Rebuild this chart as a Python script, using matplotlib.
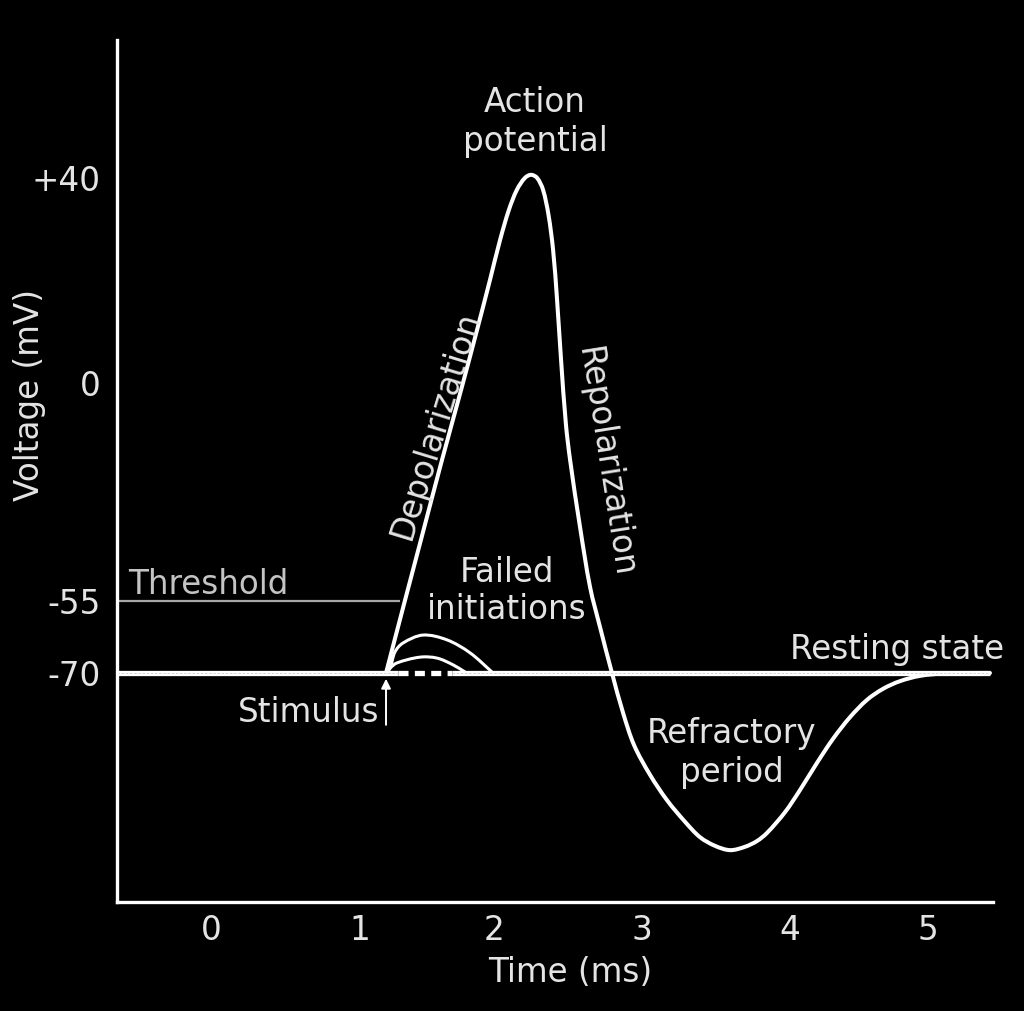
import numpy as np
import matplotlib
matplotlib.use("Agg")
import matplotlib.pyplot as plt
from matplotlib.path import Path
from matplotlib.patches import PathPatch

# ---------------- data (ms, mV) ----------------
ap_t = [1.194, 1.336, 1.474, 1.612, 1.754, 1.873, 1.970, 2.041, 2.101, 2.155, 2.209,
        2.250, 2.291, 2.331, 2.368, 2.399, 2.426, 2.453, 2.486, 2.514, 2.581, 2.649, 2.716,
        2.797, 2.872, 2.946, 3.054, 3.169, 3.291, 3.392, 3.493, 3.595, 3.696,
        3.777, 3.845, 3.966, 4.072, 4.196, 4.312, 4.435, 4.558, 4.674, 4.797, 4.942,
        5.123, 5.449]
ap_v = [-70, -54.8, -37.1, -19.4, -1.8, 10.3, 20.1, 27.9, 33.8, 37.7, 40.0,
        40.6, 40.0, 37.7, 32.8, 26.0, 16.2, 4.5, -10.5, -19.4, -36.3, -51.5, -60.4,
        -70, -78.3, -85.0, -91.2, -96.5, -101.0, -104.2, -106.0, -106.9, -106.2,
        -105.0, -103.3, -99.0, -94.4, -88.7, -83.7, -79.2, -75.6, -73.3, -71.7, -70.6,
        -70.1, -70]

fail1_t = [1.194, 1.224, 1.261, 1.321, 1.470, 1.649, 1.821, 1.993]
fail1_v = [-70, -69.0, -65.6, -63.75, -62.1, -63.1, -65.8, -70]
fail2_t = [1.194, 1.224, 1.276, 1.448, 1.575, 1.694, 1.784]
fail2_v = [-70, -69.0, -67.9, -66.7, -66.9, -68.3, -69.8]

rest_v = -70
threshold_v = -55
stimulus_t = 1.194
t_min, t_max = -0.631, 5.45
dashed_t = [1.284, 1.687]

xticks = [0, 1, 2, 3, 4, 5]
xtick_labels = ["0", "1", "2", "3", "4", "5"]
yticks = [40, 0, -55, -70]
ytick_labels = ["+40", "0", "-55", "-70"]

# schematic (non-uniform) axis spacing, as drawn in the original
x_knots = [0, 1, 2, 3, 4, 5]
x_knot_pos = [211, 360, 494, 642, 790, 928]
y_knots = [-70, -55, 0, 40]
y_knot_pos = [-673, -601, -383, -178]


def _pw(v, xp, fp):
    a = np.asarray(v, dtype=float)
    shp = a.shape
    a = a.ravel()
    out = np.interp(a, xp, fp)
    s0 = (fp[1] - fp[0]) / (xp[1] - xp[0])
    s1 = (fp[-1] - fp[-2]) / (xp[-1] - xp[-2])
    out = np.where(a < xp[0], fp[0] + (a - xp[0]) * s0, out)
    out = np.where(a > xp[-1], fp[-1] + (a - xp[-1]) * s1, out)
    return out.reshape(shp)


xf = (lambda v: _pw(v, x_knots, x_knot_pos), lambda v: _pw(v, x_knot_pos, x_knots))
yf = (lambda v: _pw(v, y_knots, y_knot_pos), lambda v: _pw(v, y_knot_pos, y_knots))


def smooth_path(ts, vs):
    """Smooth cubic Bezier path through the read points (in scale space)."""
    P = np.column_stack([xf[0](np.array(ts)), yf[0](np.array(vs))])
    n = len(P)
    d = np.linalg.norm(np.diff(P, axis=0), axis=1)
    m = np.zeros_like(P)
    m[0] = (P[1] - P[0]) / d[0]
    m[-1] = (P[-1] - P[-2]) / d[-1]
    for i in range(1, n - 1):
        m[i] = (P[i + 1] - P[i - 1]) / (d[i - 1] + d[i])
    verts = [P[0]]
    codes = [Path.MOVETO]
    for i in range(n - 1):
        verts += [P[i] + m[i] * d[i] / 3, P[i + 1] - m[i + 1] * d[i] / 3, P[i + 1]]
        codes += [Path.CURVE4] * 3
    V = np.array(verts)
    V[:, 0] = xf[1](V[:, 0])
    V[:, 1] = yf[1](V[:, 1])
    return Path(V, codes)


TXT = "#e4e4e4"
FS = 23.5
plt.rcParams['font.family'] = ['DejaVu Sans']

fig = plt.figure(figsize=(10.24, 10.11), dpi=100, facecolor="black")
ax = fig.add_axes([117 / 1024, 1 - 902 / 1011, (993 - 117) / 1024, (902 - 40) / 1011])
ax.set_facecolor("black")
ax.set_xscale("function", functions=xf)
ax.set_yscale("function", functions=yf)
ax.set_xlim(-0.631, 5.471)
ax.set_ylim(-117.7, 66.9)

for s in ["top", "right"]:
    ax.spines[s].set_visible(False)
for s in ["left", "bottom"]:
    ax.spines[s].set_color("white")
    ax.spines[s].set_linewidth(2.4)

ax.set_xticks(xticks)
ax.set_xticklabels(xtick_labels)
ax.set_yticks(yticks)
ax.set_yticklabels(ytick_labels)
ax.tick_params(axis="both", length=0, colors=TXT, labelsize=FS)
ax.tick_params(axis="y", pad=12)
ax.tick_params(axis="x", pad=9)
ax.minorticks_off()

# threshold
ax.plot([t_min, 1.30], [threshold_v, threshold_v], color="#a8a8a8", lw=1.6, solid_capstyle="butt")

# resting line
RW = 3.8
ax.plot([t_min, dashed_t[0]], [rest_v, rest_v], color="white", lw=RW, solid_capstyle="butt")
ax.plot(dashed_t, [rest_v, rest_v], color="white", lw=RW, dashes=(1.9, 1.2), dash_capstyle="butt")
ax.plot([dashed_t[1], t_max], [rest_v, rest_v], color="white", lw=RW, solid_capstyle="butt")
ax.plot([t_min, dashed_t[0]], [rest_v, rest_v], color="#cfcfcf", lw=0.6, dashes=(3, 2))
ax.plot([dashed_t[1], t_max], [rest_v, rest_v], color="#cfcfcf", lw=0.6, dashes=(3, 2))

# failed initiations
for ts, vs in [(fail1_t, fail1_v), (fail2_t, fail2_v)]:
    ax.add_patch(PathPatch(smooth_path(ts, vs), fill=False, edgecolor="white", lw=2.2,
                           capstyle="round", joinstyle="round"))

# action potential
ax.add_patch(PathPatch(smooth_path(ap_t, ap_v), fill=False, edgecolor="white", lw=2.9,
                       capstyle="round", joinstyle="round"))

# stimulus arrow
ax.annotate("", xy=(stimulus_t, -71.2), xytext=(stimulus_t, -80.8),
            arrowprops=dict(arrowstyle="-|>", color="white", lw=1.4,
                            mutation_scale=14, shrinkA=0, shrinkB=0))

# axis labels
ax.set_xlabel("Time (ms)", color=TXT, fontsize=FS)
ax.set_ylabel("Voltage (mV)", color=TXT, fontsize=FS)
ax.xaxis.set_label_coords((570 - 117) / 876, (902 - 972) / 862, transform=ax.transAxes)
ax.yaxis.set_label_coords((30 - 117) / 876, (902 - 395) / 862, transform=ax.transAxes)
ax.xaxis.label.set_va("center")
ax.yaxis.label.set_va("center")


def ftext(px, py, s, **kw):
    kw.setdefault("color", TXT)
    kw.setdefault("fontsize", FS)
    kw.setdefault("ha", "center")
    kw.setdefault("va", "center")
    fig.text(px / 1024, 1 - py / 1011, s, **kw)


ftext(535, 122, "Action\npotential", linespacing=1.2)
ftext(507, 591, "Failed\ninitiations", linespacing=1.15)
ftext(732, 753, "Refractory\nperiod", linespacing=1.2)
ftext(436, 425, "Depolarization", rotation=73, rotation_mode="anchor")
ftext(605, 462, "Repolarization", rotation=-81, rotation_mode="anchor")
ftext(128, 584, "Threshold", ha="left", color="#c4c4c4")
ftext(1004, 650, "Resting state", ha="right")
ftext(379, 712, "Stimulus", ha="right")

fig.savefig("out.png", dpi=100, facecolor="black")
